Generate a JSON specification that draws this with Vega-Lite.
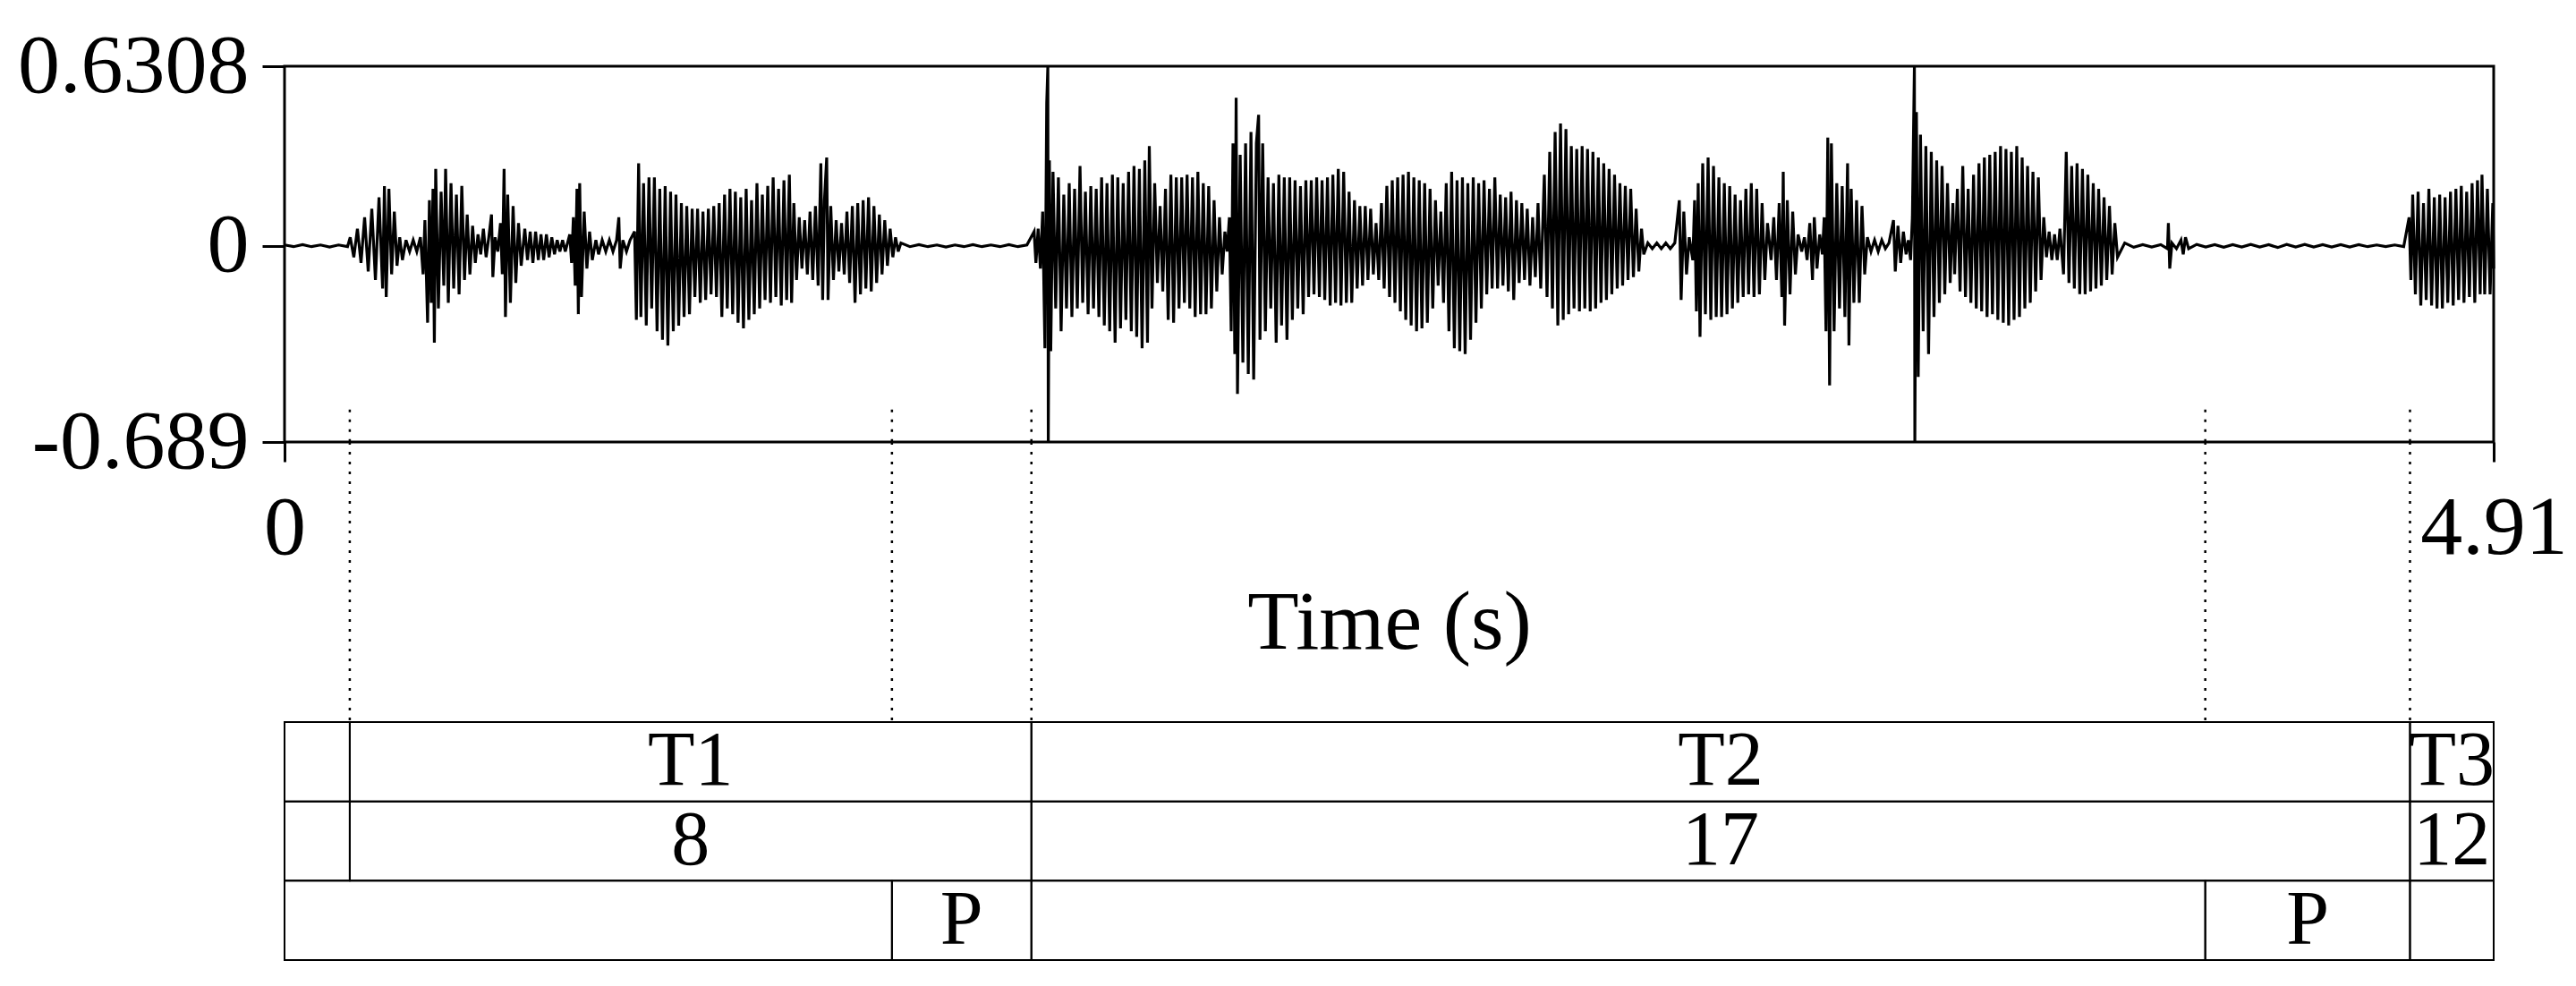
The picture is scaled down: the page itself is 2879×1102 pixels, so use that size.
{
  "$schema": "https://vega.github.io/schema/vega-lite/v6.json",
  "background": "white",
  "padding": {"left": 18, "top": 25, "right": 5, "bottom": 5},
  "bounds": "flush",
  "spacing": 0,
  "config": {
    "view": {"stroke": null},
    "font": "Liberation Serif",
    "axis": {
      "labelFont": "Liberation Serif", "titleFont": "Liberation Serif",
      "labelFontSize": 94, "titleFontSize": 94, "labelLimit": 0,
      "labelColor": "black", "titleColor": "black", "tickColor": "black",
      "titleFontWeight": "normal", "grid": false, "domain": false, "tickWidth": 3
    }
  },
  "datasets": {
    "wave": [
      {"t":0,"a":0.003},{"t":0.02,"a":-0.003},{"t":0.04,"a":0.004},{"t":0.06,"a":-0.003},{"t":0.08,"a":0.003},{"t":0.10,"a":-0.004},{"t":0.12,"a":0.003},{"t":0.14,"a":-0.003},
      {"t":0.146,"a":0.03},{"t":0.154,"a":-0.04},{"t":0.162,"a":0.06},{"t":0.170,"a":-0.06},{"t":0.178,"a":0.10},{"t":0.186,"a":-0.09},{"t":0.194,"a":0.13},{"t":0.202,"a":-0.12},{"t":0.210,"a":0.17},{"t":0.218,"a":-0.15},{"t":0.222,"a":0.21},{"t":0.226,"a":-0.18},{"t":0.232,"a":0.20},{"t":0.238,"a":-0.10},{"t":0.244,"a":0.12},{"t":0.250,"a":-0.07},
      {"t":0.256,"a":0.03},{"t":0.262,"a":-0.05},{"t":0.270,"a":0.02},{"t":0.278,"a":-0.02},{"t":0.286,"a":0.02},{"t":0.294,"a":-0.02},{"t":0.302,"a":0.03},
      {"t":0.308,"a":-0.10},{"t":0.312,"a":0.09},{"t":0.318,"a":-0.27},{"t":0.322,"a":0.16},{"t":0.326,"a":-0.20},{"t":0.330,"a":0.20},{"t":0.333,"a":-0.34},{"t":0.336,"a":0.27},{"t":0.342,"a":-0.22},{"t":0.348,"a":0.19},{"t":0.354,"a":-0.14},{"t":0.358,"a":0.27},{"t":0.364,"a":-0.20},{"t":0.370,"a":0.22},{"t":0.376,"a":-0.15},{"t":0.382,"a":0.18},{"t":0.388,"a":-0.17},{"t":0.394,"a":0.21},{"t":0.400,"a":-0.12},{"t":0.406,"a":0.11},{"t":0.412,"a":-0.10},{"t":0.418,"a":0.07},{"t":0.424,"a":-0.06},
      {"t":0.430,"a":0.04},{"t":0.436,"a":-0.03},{"t":0.442,"a":0.06},{"t":0.448,"a":-0.04},{"t":0.454,"a":0.03},{"t":0.460,"a":0.11},{"t":0.463,"a":-0.11},{"t":0.468,"a":0.03},{"t":0.474,"a":-0.02},
      {"t":0.480,"a":0.08},{"t":0.484,"a":-0.10},{"t":0.488,"a":0.27},{"t":0.491,"a":-0.25},{"t":0.496,"a":0.18},{"t":0.502,"a":-0.20},{"t":0.508,"a":0.14},{"t":0.514,"a":-0.13},{"t":0.520,"a":0.08},{"t":0.526,"a":-0.07},
      {"t":0.534,"a":0.06},{"t":0.540,"a":-0.05},{"t":0.546,"a":0.05},{"t":0.552,"a":-0.06},{"t":0.558,"a":0.05},{"t":0.564,"a":-0.05},{"t":0.570,"a":0.04},{"t":0.576,"a":-0.05},{"t":0.582,"a":0.04},{"t":0.588,"a":-0.04},{"t":0.594,"a":0.03},{"t":0.600,"a":-0.03},{"t":0.606,"a":0.02},{"t":0.612,"a":-0.02},{"t":0.618,"a":0.02},{"t":0.624,"a":-0.02},
      {"t":0.634,"a":0.04},{"t":0.638,"a":-0.06},{"t":0.642,"a":0.10},{"t":0.646,"a":-0.14},{"t":0.650,"a":0.20},{"t":0.653,"a":-0.24},{"t":0.656,"a":0.22},{"t":0.660,"a":-0.18},{"t":0.666,"a":0.12},{"t":0.672,"a":-0.08},{"t":0.678,"a":0.05},{"t":0.684,"a":-0.05},
      {"t":0.692,"a":0.02},{"t":0.698,"a":-0.03},{"t":0.706,"a":0.02},{"t":0.714,"a":-0.02},{"t":0.722,"a":0.02},{"t":0.730,"a":-0.02},{"t":0.738,"a":0.02},{"t":0.743,"a":0.10},{"t":0.746,"a":-0.08},{"t":0.752,"a":0.02},{"t":0.760,"a":-0.02},{"t":0.768,"a":0.02},
      {"t":0.778,"a":0.05},{"t":0.782,"a":-0.26},{"t":0.787,"a":0.29},{"t":0.792,"a":-0.25},{"t":0.798,"a":0.22},{"t":0.804,"a":-0.28},{"t":0.810,"a":0.24},{"t":0.816,"a":-0.22},{"t":0.822,"a":0.24},{"t":0.828,"a":-0.30},{"t":0.834,"a":0.20},{"t":0.840,"a":-0.33},{"t":0.846,"a":0.21},{"t":0.852,"a":-0.35},{"t":0.858,"a":0.19},{"t":0.864,"a":-0.30},{"t":0.870,"a":0.18},{"t":0.876,"a":-0.28},{"t":0.882,"a":0.15},{"t":0.888,"a":-0.25},{"t":0.894,"a":0.14},{"t":0.900,"a":-0.24},{"t":0.906,"a":0.13},{"t":0.912,"a":-0.18},{"t":0.918,"a":0.13},{"t":0.924,"a":-0.20},{"t":0.930,"a":0.12},{"t":0.936,"a":-0.19},{"t":0.942,"a":0.13},{"t":0.948,"a":-0.17},{"t":0.954,"a":0.14},{"t":0.960,"a":-0.18},{"t":0.966,"a":0.15},{"t":0.972,"a":-0.25},{"t":0.978,"a":0.18},{"t":0.984,"a":-0.22},{"t":0.990,"a":0.20},{"t":0.996,"a":-0.24},{"t":1.002,"a":0.19},{"t":1.008,"a":-0.27},{"t":1.014,"a":0.17},{"t":1.020,"a":-0.29},{"t":1.026,"a":0.20},{"t":1.032,"a":-0.26},{"t":1.038,"a":0.16},{"t":1.044,"a":-0.24},{"t":1.050,"a":0.22},{"t":1.056,"a":-0.22},{"t":1.062,"a":0.18},{"t":1.068,"a":-0.19},{"t":1.074,"a":0.21},{"t":1.080,"a":-0.20},{"t":1.086,"a":0.24},{"t":1.092,"a":-0.18},{"t":1.098,"a":0.20},{"t":1.104,"a":-0.21},{"t":1.110,"a":0.23},{"t":1.116,"a":-0.19},{"t":1.122,"a":0.25},{"t":1.127,"a":-0.20},{"t":1.132,"a":0.15},
      {"t":1.138,"a":-0.12},{"t":1.144,"a":0.10},{"t":1.150,"a":-0.08},{"t":1.156,"a":0.09},{"t":1.162,"a":-0.10},{"t":1.168,"a":0.12},{"t":1.174,"a":-0.12},{"t":1.180,"a":0.14},{"t":1.186,"a":-0.14},{"t":1.192,"a":0.29},{"t":1.196,"a":-0.19},{"t":1.200,"a":0.16},{"t":1.205,"a":0.31},{"t":1.208,"a":-0.19},{"t":1.214,"a":0.14},{"t":1.220,"a":-0.12},{"t":1.226,"a":0.09},{"t":1.232,"a":-0.09},{"t":1.238,"a":0.08},
      {"t":1.244,"a":-0.10},{"t":1.250,"a":0.12},{"t":1.256,"a":-0.13},{"t":1.262,"a":0.14},{"t":1.268,"a":-0.20},{"t":1.274,"a":0.15},{"t":1.280,"a":-0.17},{"t":1.286,"a":0.16},{"t":1.292,"a":-0.15},{"t":1.298,"a":0.17},{"t":1.304,"a":-0.16},{"t":1.310,"a":0.14},{"t":1.316,"a":-0.13},{"t":1.322,"a":0.11},{"t":1.328,"a":-0.10},{"t":1.334,"a":0.09},{"t":1.340,"a":-0.07},{"t":1.346,"a":0.06},{"t":1.352,"a":-0.04},{"t":1.358,"a":0.03},{"t":1.364,"a":-0.02},{"t":1.370,"a":0.01},
      {"t":1.39,"a":-0.003},{"t":1.41,"a":0.004},{"t":1.43,"a":-0.003},{"t":1.45,"a":0.003},{"t":1.47,"a":-0.004},{"t":1.49,"a":0.003},{"t":1.51,"a":-0.003},{"t":1.53,"a":0.004},{"t":1.55,"a":-0.003},{"t":1.57,"a":0.003},{"t":1.59,"a":-0.003},{"t":1.61,"a":0.004},{"t":1.63,"a":-0.003},{"t":1.65,"a":0.003},
      {"t":1.666,"a":0.05},{"t":1.670,"a":-0.06},{"t":1.675,"a":0.06},{"t":1.680,"a":-0.08},{"t":1.685,"a":0.12},{"t":1.690,"a":-0.36},{"t":1.694,"a":0.50},{"t":1.6965,"a":0.6308},{"t":1.6975,"a":-0.689},{"t":1.700,"a":0.30},
      {"t":1.703,"a":-0.37},{"t":1.708,"a":0.26},{"t":1.714,"a":-0.22},{"t":1.720,"a":0.24},{"t":1.726,"a":-0.30},{"t":1.732,"a":0.18},{"t":1.738,"a":-0.22},{"t":1.744,"a":0.22},{"t":1.750,"a":-0.25},{"t":1.756,"a":0.20},{"t":1.762,"a":-0.22},{"t":1.768,"a":0.28},{"t":1.774,"a":-0.20},{"t":1.780,"a":0.19},{"t":1.786,"a":-0.24},{"t":1.792,"a":0.21},{"t":1.798,"a":-0.22},{"t":1.804,"a":0.20},{"t":1.810,"a":-0.25},{"t":1.816,"a":0.24},{"t":1.822,"a":-0.28},{"t":1.828,"a":0.22},{"t":1.834,"a":-0.30},{"t":1.840,"a":0.25},{"t":1.846,"a":-0.34},{"t":1.852,"a":0.24},{"t":1.858,"a":-0.29},{"t":1.864,"a":0.22},{"t":1.870,"a":-0.26},{"t":1.876,"a":0.26},{"t":1.882,"a":-0.30},{"t":1.888,"a":0.28},{"t":1.894,"a":-0.32},{"t":1.900,"a":0.27},{"t":1.906,"a":-0.36},{"t":1.912,"a":0.30},{"t":1.918,"a":-0.34},{"t":1.922,"a":0.35},{"t":1.928,"a":-0.22},{"t":1.934,"a":0.22},{"t":1.940,"a":-0.13},{"t":1.946,"a":0.14},{"t":1.952,"a":-0.16},{"t":1.958,"a":0.20},{"t":1.964,"a":-0.26},{"t":1.970,"a":0.25},{"t":1.976,"a":-0.27},{"t":1.982,"a":0.24},{"t":1.988,"a":-0.22},
      {"t":1.994,"a":0.24},{"t":2.000,"a":-0.20},{"t":2.006,"a":0.25},{"t":2.012,"a":-0.22},{"t":2.018,"a":0.24},{"t":2.024,"a":-0.25},{"t":2.030,"a":0.26},{"t":2.036,"a":-0.24},{"t":2.042,"a":0.22},{"t":2.048,"a":-0.24},{"t":2.054,"a":0.21},{"t":2.060,"a":-0.22},{"t":2.066,"a":0.16},{"t":2.072,"a":-0.16},{"t":2.078,"a":0.10},{"t":2.084,"a":-0.10},{"t":2.090,"a":0.05},{"t":2.095,"a":-0.02},
      {"t":2.100,"a":0.10},{"t":2.104,"a":-0.30},{"t":2.108,"a":0.36},{"t":2.112,"a":-0.38},{"t":2.115,"a":0.52},{"t":2.118,"a":-0.52},{"t":2.124,"a":0.32},{"t":2.130,"a":-0.41},{"t":2.136,"a":0.36},{"t":2.142,"a":-0.45},{"t":2.148,"a":0.40},{"t":2.154,"a":-0.47},{"t":2.160,"a":0.36},{"t":2.165,"a":0.46},{"t":2.168,"a":-0.33},{"t":2.174,"a":0.36},{"t":2.180,"a":-0.30},
      {"t":2.186,"a":0.24},{"t":2.192,"a":-0.22},{"t":2.198,"a":0.22},{"t":2.204,"a":-0.34},{"t":2.210,"a":0.25},{"t":2.216,"a":-0.28},{"t":2.222,"a":0.24},{"t":2.228,"a":-0.33},{"t":2.234,"a":0.24},{"t":2.240,"a":-0.26},{"t":2.246,"a":0.23},{"t":2.252,"a":-0.22},{"t":2.258,"a":0.21},{"t":2.264,"a":-0.24},{"t":2.270,"a":0.23},{"t":2.276,"a":-0.18},{"t":2.282,"a":0.23},{"t":2.288,"a":-0.17},{"t":2.294,"a":0.24},{"t":2.300,"a":-0.18},{"t":2.306,"a":0.23},{"t":2.312,"a":-0.19},{"t":2.318,"a":0.24},{"t":2.324,"a":-0.21},{"t":2.330,"a":0.25},{"t":2.336,"a":-0.20},{"t":2.342,"a":0.27},{"t":2.348,"a":-0.21},{"t":2.354,"a":0.26},{"t":2.360,"a":-0.20},{"t":2.366,"a":0.19},{"t":2.372,"a":-0.20},{"t":2.378,"a":0.16},{"t":2.384,"a":-0.15},{"t":2.390,"a":0.14},{"t":2.396,"a":-0.14},{"t":2.402,"a":0.14},{"t":2.408,"a":-0.12},{"t":2.414,"a":0.13},{"t":2.420,"a":-0.10},{"t":2.426,"a":0.08},
      {"t":2.432,"a":-0.12},{"t":2.438,"a":0.15},{"t":2.444,"a":-0.15},{"t":2.450,"a":0.21},{"t":2.456,"a":-0.18},{"t":2.462,"a":0.23},{"t":2.468,"a":-0.20},{"t":2.474,"a":0.24},{"t":2.480,"a":-0.23},{"t":2.486,"a":0.25},{"t":2.492,"a":-0.26},{"t":2.498,"a":0.26},{"t":2.504,"a":-0.28},{"t":2.510,"a":0.24},{"t":2.516,"a":-0.30},{"t":2.522,"a":0.23},{"t":2.528,"a":-0.29},{"t":2.534,"a":0.22},{"t":2.540,"a":-0.27},{"t":2.546,"a":0.20},{"t":2.552,"a":-0.22},{"t":2.558,"a":0.16},{"t":2.564,"a":-0.14},{"t":2.570,"a":0.12},
      {"t":2.576,"a":-0.20},{"t":2.582,"a":0.22},{"t":2.588,"a":-0.30},{"t":2.594,"a":0.26},{"t":2.600,"a":-0.36},{"t":2.606,"a":0.23},{"t":2.612,"a":-0.37},{"t":2.618,"a":0.24},{"t":2.624,"a":-0.38},{"t":2.630,"a":0.22},{"t":2.636,"a":-0.33},{"t":2.642,"a":0.24},{"t":2.648,"a":-0.27},{"t":2.654,"a":0.22},{"t":2.660,"a":-0.22},{"t":2.666,"a":0.23},{"t":2.672,"a":-0.17},{"t":2.678,"a":0.20},{"t":2.684,"a":-0.15},{"t":2.690,"a":0.24},
      {"t":2.696,"a":-0.15},{"t":2.702,"a":0.18},{"t":2.708,"a":-0.14},{"t":2.714,"a":0.17},{"t":2.720,"a":-0.16},{"t":2.726,"a":0.19},{"t":2.732,"a":-0.19},{"t":2.738,"a":0.16},{"t":2.744,"a":-0.13},{"t":2.750,"a":0.15},{"t":2.756,"a":-0.12},{"t":2.762,"a":0.13},{"t":2.768,"a":-0.14},{"t":2.774,"a":0.10},{"t":2.780,"a":-0.11},{"t":2.786,"a":0.15},{"t":2.792,"a":-0.15},
      {"t":2.800,"a":0.25},{"t":2.806,"a":-0.18},{"t":2.812,"a":0.33},{"t":2.818,"a":-0.22},{"t":2.824,"a":0.40},{"t":2.830,"a":-0.28},{"t":2.836,"a":0.43},{"t":2.842,"a":-0.26},{"t":2.848,"a":0.41},{"t":2.854,"a":-0.24},{"t":2.860,"a":0.35},{"t":2.866,"a":-0.22},{"t":2.872,"a":0.34},{"t":2.878,"a":-0.23},{"t":2.884,"a":0.35},{"t":2.890,"a":-0.22},{"t":2.896,"a":0.34},{"t":2.902,"a":-0.23},{"t":2.908,"a":0.33},{"t":2.914,"a":-0.22},{"t":2.920,"a":0.31},{"t":2.926,"a":-0.20},{"t":2.932,"a":0.29},{"t":2.938,"a":-0.19},{"t":2.944,"a":0.27},{"t":2.950,"a":-0.17},{"t":2.956,"a":0.25},{"t":2.962,"a":-0.15},{"t":2.968,"a":0.22},{"t":2.974,"a":-0.14},{"t":2.980,"a":0.21},
      {"t":2.986,"a":-0.12},{"t":2.992,"a":0.20},{"t":2.998,"a":-0.11},{"t":3.004,"a":0.13},{"t":3.010,"a":-0.09},{"t":3.016,"a":0.06},{"t":3.021,"a":-0.03},
      {"t":3.030,"a":0.01},{"t":3.040,"a":-0.01},{"t":3.050,"a":0.01},{"t":3.060,"a":-0.01},{"t":3.070,"a":0.01},{"t":3.080,"a":-0.01},{"t":3.090,"a":0.01},
      {"t":3.100,"a":0.16},{"t":3.104,"a":-0.19},{"t":3.110,"a":0.12},{"t":3.116,"a":-0.10},{"t":3.122,"a":0.03},
      {"t":3.130,"a":-0.05},{"t":3.134,"a":0.16},{"t":3.138,"a":-0.23},{"t":3.142,"a":0.22},{"t":3.146,"a":-0.32},{"t":3.152,"a":0.29},{"t":3.158,"a":-0.24},{"t":3.164,"a":0.31},{"t":3.170,"a":-0.26},{"t":3.176,"a":0.28},{"t":3.182,"a":-0.25},{"t":3.188,"a":0.24},{"t":3.194,"a":-0.25},{"t":3.200,"a":0.22},{"t":3.206,"a":-0.24},{"t":3.212,"a":0.21},{"t":3.218,"a":-0.22},{"t":3.224,"a":0.18},{"t":3.230,"a":-0.20},{"t":3.236,"a":0.16},{"t":3.242,"a":-0.18},{"t":3.248,"a":0.20},{"t":3.254,"a":-0.17},{"t":3.260,"a":0.22},{"t":3.266,"a":-0.18},{"t":3.272,"a":0.20},{"t":3.278,"a":-0.17},{"t":3.284,"a":0.15},{"t":3.290,"a":-0.12},{"t":3.296,"a":0.08},
      {"t":3.304,"a":-0.05},{"t":3.310,"a":0.10},{"t":3.316,"a":-0.12},{"t":3.322,"a":0.15},{"t":3.328,"a":-0.18},{"t":3.331,"a":0.26},{"t":3.334,"a":-0.28},{"t":3.340,"a":0.16},{"t":3.346,"a":-0.17},{"t":3.352,"a":0.12},{"t":3.358,"a":-0.10},{"t":3.364,"a":0.04},
      {"t":3.372,"a":-0.02},{"t":3.378,"a":0.03},{"t":3.384,"a":-0.05},{"t":3.390,"a":0.08},{"t":3.396,"a":-0.12},{"t":3.400,"a":0.10},{"t":3.406,"a":-0.08},{"t":3.412,"a":0.04},{"t":3.418,"a":-0.03},
      {"t":3.422,"a":0.10},{"t":3.426,"a":-0.30},{"t":3.430,"a":0.38},{"t":3.434,"a":-0.49},{"t":3.438,"a":0.36},{"t":3.444,"a":-0.30},{"t":3.450,"a":0.22},{"t":3.456,"a":-0.22},{"t":3.462,"a":0.21},{"t":3.468,"a":-0.25},{"t":3.474,"a":0.29},{"t":3.477,"a":-0.35},{"t":3.482,"a":0.20},{"t":3.488,"a":-0.20},{"t":3.494,"a":0.16},{"t":3.500,"a":-0.20},{"t":3.506,"a":0.14},{"t":3.512,"a":-0.10},{"t":3.518,"a":0.03},
      {"t":3.526,"a":-0.02},{"t":3.534,"a":0.02},{"t":3.542,"a":-0.02},{"t":3.550,"a":0.02},{"t":3.558,"a":-0.01},{"t":3.566,"a":0.01},
      {"t":3.576,"a":0.09},{"t":3.580,"a":-0.09},{"t":3.586,"a":0.07},{"t":3.592,"a":-0.06},{"t":3.598,"a":0.05},{"t":3.604,"a":-0.03},{"t":3.609,"a":0.02},
      {"t":3.614,"a":-0.05},{"t":3.618,"a":0.10},{"t":3.6225,"a":0.6308},{"t":3.6235,"a":-0.689},{"t":3.627,"a":0.47},{"t":3.631,"a":-0.46},
      {"t":3.636,"a":0.39},{"t":3.642,"a":-0.30},{"t":3.648,"a":0.35},{"t":3.654,"a":-0.38},{"t":3.660,"a":0.33},{"t":3.666,"a":-0.25},{"t":3.672,"a":0.30},{"t":3.678,"a":-0.20},{"t":3.684,"a":0.28},{"t":3.690,"a":-0.17},{"t":3.696,"a":0.22},{"t":3.702,"a":-0.13},{"t":3.708,"a":0.15},{"t":3.712,"a":-0.10},
      {"t":3.718,"a":0.20},{"t":3.724,"a":-0.16},{"t":3.730,"a":0.28},{"t":3.736,"a":-0.18},{"t":3.742,"a":0.20},{"t":3.748,"a":-0.20},{"t":3.754,"a":0.25},{"t":3.760,"a":-0.22},{"t":3.766,"a":0.29},{"t":3.772,"a":-0.23},{"t":3.778,"a":0.31},{"t":3.784,"a":-0.25},{"t":3.790,"a":0.32},{"t":3.796,"a":-0.24},{"t":3.802,"a":0.33},{"t":3.808,"a":-0.26},{"t":3.814,"a":0.35},{"t":3.820,"a":-0.27},{"t":3.826,"a":0.34},{"t":3.832,"a":-0.28},{"t":3.838,"a":0.33},{"t":3.844,"a":-0.26},{"t":3.850,"a":0.35},{"t":3.856,"a":-0.25},{"t":3.862,"a":0.31},{"t":3.868,"a":-0.22},{"t":3.874,"a":0.28},{"t":3.880,"a":-0.20},{"t":3.886,"a":0.26},{"t":3.892,"a":-0.16},{"t":3.898,"a":0.24},{"t":3.904,"a":-0.12},{"t":3.910,"a":0.10},
      {"t":3.916,"a":-0.04},{"t":3.922,"a":0.05},{"t":3.928,"a":-0.05},{"t":3.934,"a":0.04},{"t":3.940,"a":-0.05},{"t":3.946,"a":0.06},
      {"t":3.954,"a":-0.10},{"t":3.960,"a":0.33},{"t":3.966,"a":-0.13},{"t":3.972,"a":0.28},{"t":3.978,"a":-0.15},{"t":3.984,"a":0.29},{"t":3.990,"a":-0.17},{"t":3.996,"a":0.27},{"t":4.002,"a":-0.17},{"t":4.008,"a":0.25},{"t":4.014,"a":-0.16},{"t":4.020,"a":0.22},{"t":4.026,"a":-0.15},{"t":4.032,"a":0.20},{"t":4.038,"a":-0.14},{"t":4.044,"a":0.17},{"t":4.050,"a":-0.12},{"t":4.056,"a":0.14},{"t":4.062,"a":-0.10},{"t":4.068,"a":0.08},{"t":4.074,"a":-0.04},
      {"t":4.09,"a":0.01},{"t":4.11,"a":-0.005},{"t":4.13,"a":0.004},{"t":4.15,"a":-0.004},{"t":4.17,"a":0.004},{"t":4.185,"a":-0.01},{"t":4.187,"a":0.08},{"t":4.190,"a":-0.08},{"t":4.195,"a":0.01},{"t":4.205,"a":-0.01},{"t":4.215,"a":0.02},{"t":4.220,"a":-0.03},{"t":4.225,"a":0.03},{"t":4.232,"a":-0.01},{"t":4.25,"a":0.005},{"t":4.27,"a":-0.004},{"t":4.29,"a":0.004},{"t":4.31,"a":-0.005},{"t":4.33,"a":0.004},{"t":4.35,"a":-0.004},{"t":4.37,"a":0.005},{"t":4.39,"a":-0.004},{"t":4.41,"a":0.004},{"t":4.43,"a":-0.006},{"t":4.45,"a":0.005},{"t":4.47,"a":-0.004},{"t":4.49,"a":0.005},{"t":4.51,"a":-0.004},{"t":4.53,"a":0.004},{"t":4.55,"a":-0.004},{"t":4.57,"a":0.004},{"t":4.59,"a":-0.004},{"t":4.61,"a":0.004},{"t":4.63,"a":-0.003},{"t":4.65,"a":0.003},{"t":4.67,"a":-0.003},{"t":4.69,"a":0.003},{"t":4.71,"a":-0.003},
      {"t":4.722,"a":0.10},{"t":4.726,"a":-0.12},{"t":4.730,"a":0.18},{"t":4.736,"a":-0.17},{"t":4.742,"a":0.19},{"t":4.748,"a":-0.21},{"t":4.754,"a":0.15},{"t":4.760,"a":-0.19},{"t":4.766,"a":0.20},{"t":4.772,"a":-0.21},{"t":4.778,"a":0.17},{"t":4.784,"a":-0.22},{"t":4.790,"a":0.18},{"t":4.796,"a":-0.22},{"t":4.802,"a":0.17},{"t":4.808,"a":-0.20},{"t":4.814,"a":0.19},{"t":4.820,"a":-0.21},{"t":4.826,"a":0.20},{"t":4.832,"a":-0.19},{"t":4.838,"a":0.21},{"t":4.844,"a":-0.20},{"t":4.850,"a":0.19},{"t":4.856,"a":-0.18},{"t":4.862,"a":0.22},{"t":4.868,"a":-0.20},{"t":4.874,"a":0.23},{"t":4.880,"a":-0.17},{"t":4.884,"a":0.25},{"t":4.890,"a":-0.17},{"t":4.896,"a":0.20},{"t":4.902,"a":-0.17},{"t":4.908,"a":0.15},{"t":4.910,"a":-0.08}
    ],
    "tiers": [
      {"id":1,"tier":1,"start":0,"end":0.145,"label":""},
      {"id":2,"tier":1,"start":0.145,"end":1.660,"label":"T1"},
      {"id":3,"tier":1,"start":1.660,"end":4.724,"label":"T2"},
      {"id":4,"tier":1,"start":4.724,"end":4.91,"label":"T3"},
      {"id":5,"tier":2,"start":0,"end":0.145,"label":""},
      {"id":6,"tier":2,"start":0.145,"end":1.660,"label":"8"},
      {"id":7,"tier":2,"start":1.660,"end":4.724,"label":"17"},
      {"id":8,"tier":2,"start":4.724,"end":4.91,"label":"12"},
      {"id":9,"tier":3,"start":0,"end":1.350,"label":""},
      {"id":10,"tier":3,"start":1.350,"end":1.660,"label":"P"},
      {"id":11,"tier":3,"start":1.660,"end":4.269,"label":""},
      {"id":12,"tier":3,"start":4.269,"end":4.724,"label":"P"},
      {"id":13,"tier":3,"start":4.724,"end":4.91,"label":""}
    ],
    "bounds": [{"t":0.145},{"t":1.350},{"t":1.660},{"t":4.269},{"t":4.724}]
  },
  "vconcat": [
    {
      "width": 2469,
      "height": 420,
      "view": {"stroke": "black", "strokeWidth": 3},
      "layer": [
        {
          "data": {"name": "wave"},
          "mark": {"type": "line", "color": "black", "strokeWidth": 3.2, "strokeJoin": "miter"},
          "encoding": {
            "x": {"field": "t", "type": "quantitative",
              "scale": {"domain": [0, 4.91], "nice": false, "zero": false},
              "axis": {"values": [0, 4.91], "labelExpr": "'' + datum.value", "title": "Time (s)",
                "tickSize": 22, "labelPadding": 28, "titlePadding": 13,
                "labelFlush": false, "labelOverlap": false, "labelBound": false}},
            "y": {"field": "a", "type": "quantitative",
              "scale": {"domain": [-0.689, 0.6308], "nice": false, "zero": false},
              "axis": {"values": [-0.689, 0, 0.6308], "labelExpr": "'' + datum.value", "title": null,
                "tickSize": 25, "labelPadding": 15, "labelOverlap": false, "labelBound": false, "labelFlush": false}}
          }
        },
        {
          "data": {"name": "bounds"},
          "mark": {"type": "rule", "color": "black", "strokeWidth": 2.5, "strokeDash": [3, 8]},
          "encoding": {
            "x": {"field": "t", "type": "quantitative"},
            "y": {"datum": -0.575},
            "y2": {"datum": -0.689}
          }
        }
      ]
    },
    {
      "width": 2469,
      "height": 313,
      "data": {"name": "bounds"},
      "mark": {"type": "rule", "color": "black", "strokeWidth": 2.5, "strokeDash": [3, 8]},
      "encoding": {
        "x": {"field": "t", "type": "quantitative",
          "scale": {"domain": [0, 4.91], "nice": false, "zero": false}, "axis": null}
      }
    },
    {
      "width": 2469,
      "height": 266,
      "data": {"name": "tiers"},
      "layer": [
        {
          "mark": {"type": "rect", "filled": false, "stroke": "black", "strokeWidth": 2},
          "encoding": {
            "x": {"field": "start", "type": "quantitative",
              "scale": {"domain": [0, 4.91], "nice": false, "zero": false}, "axis": null},
            "x2": {"field": "end"},
            "y": {"field": "tier", "type": "ordinal",
              "scale": {"paddingInner": 0, "paddingOuter": 0}, "axis": null}
          }
        },
        {
          "transform": [{"fold": ["start", "end"], "as": ["edge", "time"]}],
          "mark": {"type": "text", "font": "Liberation Serif", "fontSize": 86, "baseline": "middle", "align": "center", "color": "black"},
          "encoding": {
            "x": {"aggregate": "mean", "field": "time", "type": "quantitative"},
            "y": {"field": "tier", "type": "ordinal"},
            "text": {"field": "label"},
            "detail": {"field": "id"}
          }
        }
      ]
    }
  ]
}
